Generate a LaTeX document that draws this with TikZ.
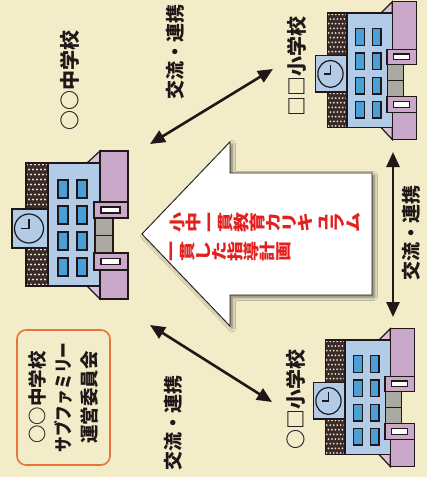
\documentclass[tikz,border=0pt]{standalone}
\usepackage{fontspec}
\usepackage{graphicx}
\usetikzlibrary{arrows.meta,shadows.blur}
\newfontfamily\jpfont{Noto Sans CJK JP}

\definecolor{paper}{HTML}{F2ECC9}
\definecolor{ink}{HTML}{201818}
\definecolor{wallblue}{HTML}{B2CBE6}
\definecolor{paneblue}{HTML}{4A9FD6}
\definecolor{annexmauve}{HTML}{C9A8C9}
\definecolor{roofmauve}{HTML}{DCC2D8}
\definecolor{doorgray}{HTML}{AAA9A2}
\definecolor{wingdark}{HTML}{3A2A2A}
\definecolor{wingdot}{HTML}{EDE3C6}
\definecolor{planred}{HTML}{E3201E}
\definecolor{boxorange}{HTML}{E8743A}

% vertical (tategaki) column: one character per line, lines 20pt apart,
% then squeezed along the column
\newcommand{\colstack}[1]{\scalebox{1}[0.8]{\vbox{\hsize=20pt\baselineskip=20pt
  \lineskiplimit=-100pt\lineskip=0pt\parindent=0pt\centering #1\par}}}

\tikzset{
  bline/.style={draw=ink, line width=1.2pt},
  bwall/.style={bline, fill=wallblue},
  bpane/.style={bline, fill=paneblue},
  bannex/.style={bline, fill=annexmauve},
  broof/.style={bline, fill=roofmauve},
  bdoor/.style={bline, fill=doorgray},
  link/.style={draw=ink, line width=2.6pt,
    {Triangle[length=15pt,width=13pt]}-{Triangle[length=15pt,width=13pt]}},
  lbl/.style={font=\jpfont\bfseries\fontsize{19}{19}\selectfont, text=ink, rotate=90, inner sep=0pt},
  schoolname/.style={lbl, font=\jpfont\bfseries\fontsize{20}{20}\selectfont},
  plan/.style={font=\jpfont\bfseries\fontsize{20}{20}\selectfont, text=planred, rotate=90, inner sep=0pt, anchor=north},
  ctebox/.style={draw=boxorange, line width=1.6pt, rounded corners=9pt, rotate=90,
    minimum width=135pt, minimum height=93pt, align=center, inner sep=0pt, text=ink,
    font=\jpfont\bfseries\fontsize{18.5}{26}\selectfont},
  school/.pic={
    % side wing with dotted texture
    \fill[wingdark] (-22,0) rectangle (0,123);
    \begin{scope}
      \clip (-22,0) rectangle (0,123);
      \foreach \r in {0,...,25}{
        \foreach \c in {0,...,5}{
          \pgfmathsetmacro\dx{-21+\c*4+mod(\r,2)*2}
          \fill[wingdot] (\dx,{1.5+\r*5}) circle[radius=1.1pt];
        }
      }
    \end{scope}
    \draw[bline] (-22,0) rectangle (0,123);
    % slanted roof edges toward the annex
    \path[broof] (39,0) -- (52,-12) -- (52,0) -- cycle;
    \path[broof] (39,123) -- (52,136) -- (52,123) -- cycle;
    % main block with windows
    \path[bwall] (0,0) rectangle (52,123);
    \foreach \wy in {17,43,69,95}{
      \path[bpane] (10,\wy) rectangle (20,\wy+18);
      \path[bpane] (29,\wy) rectangle (39,\wy+18);
    }
    % annex blocks
    \path[bannex] (52,-12) rectangle (80,39);
    \path[bannex] (52,107) rectangle (80,136);
    % entrance
    \path[bdoor] (47,55) rectangle (65,72.5);
    \path[bdoor] (47,72.5) rectangle (65,90);
    % canopies over the entrance
    \path[bannex] (46,39) rectangle (80,55);
    \path[bline, fill=white] (53,44) rectangle (72,50);
    \path[bannex] (46,90) rectangle (80,107);
    \path[bline, fill=white] (53,95.5) rectangle (72,101.5);
    % clock tower
    \path[bwall] (-36,46) rectangle (0,85);
    \path[bwall] (-19,65.5) circle[radius=14.5pt];
    \draw[bline, line width=1.4pt] (-19,56) -- (-19,65.5) -- (-27,65.5);
  }
}

\begin{document}
\begin{tikzpicture}[x=1pt, y=-1pt]
  \fill[paper] (0,0) rectangle (427,477);
  \useasboundingbox (0,0) rectangle (427,477);

  % the three schools
  \pic (jhs) at (48,163) {school};
  \pic[xscale=0.87, yscale=0.93] (esA) at (347,13) {school};
  \pic[xscale=0.87, yscale=0.93] (esB) at (345,340) {school};

  % school names
  \node[schoolname] (jhsname) at (70,80) {○○中学校};
  \node[schoolname] (esAname) at (297,66) {□□小学校};
  \node[schoolname] (esBname) at (296,399) {○□小学校};

  % big arrow: shared curriculum
  \path[draw=ink, line width=0.8pt, fill=white,
    blur shadow={shadow xshift=2pt, shadow yshift=-2pt, shadow blur radius=3.5pt, shadow opacity=55}]
    (142,234) -- (230,142) -- (230,173) -- (372,173) -- (372,295)
    -- (230,295) -- (230,326) -- cycle;
  \node[plan] (plan1) at (170,222) {\colstack{小\\中\\一\\貫\\教\\育\\カ\\リ\\キ\\ュ\\ラ\\ム}};
  \node[plan] (plan2) at (170,251) {\colstack{一\\貫\\し\\た\\指\\導\\計\\画}};

  % exchange links
  \coordinate (lnkAa) at (150,144);
  \coordinate (lnkAb) at (273,69);
  \coordinate (lnkBa) at (150,325);
  \coordinate (lnkBb) at (272,402);
  \coordinate (lnkCa) at (393,152);
  \coordinate (lnkCb) at (393,317);
  \draw[link] (lnkAa) -- (lnkAb);
  \draw[link] (lnkBa) -- (lnkBb);
  \draw[link] (lnkCa) -- (lnkCb);
  \node[lbl] (lnkAtext) at (175,52) {交流・連携};
  \node[lbl] (lnkBtext) at (173,423) {交流・連携};
  \node[lbl] (lnkCtext) at (411,233) {交流・連携};

  % committee box
  \node[ctebox] (cte) at (63.5,397.5) {○○中学校\\\scalebox{0.85}[1]{サブファミリー}\\運営委員会};
\end{tikzpicture}
\end{document}
